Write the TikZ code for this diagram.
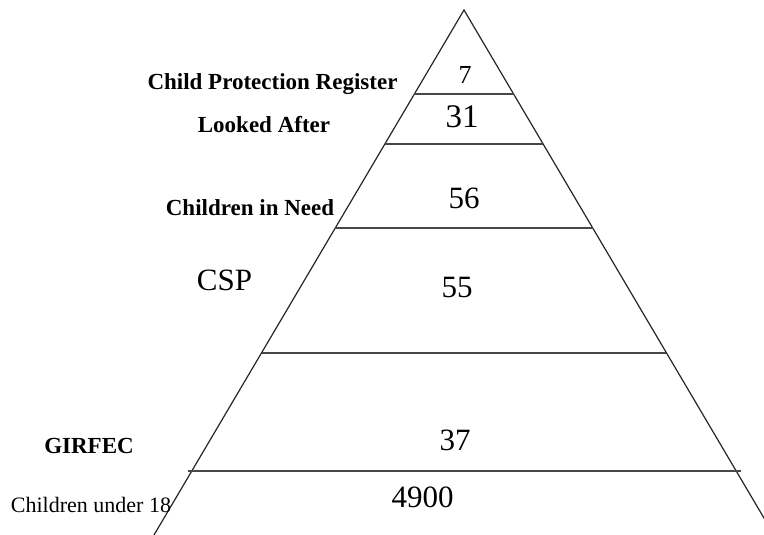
\documentclass[tikz,border=0pt]{standalone}
\usepackage{fontspec}
\setmainfont{Liberation Serif}
\begin{document}
\begin{tikzpicture}[x=1pt,y=-1pt,
  side/.style={line width=1.2pt, draw=black!85},
  divider/.style={line width=1.7pt, draw=black!72},
  blbl/.style={inner sep=0, anchor=base, font=\fontsize{23}{23}\selectfont\bfseries},
  rlbl/.style={inner sep=0, anchor=base, font=\fontsize{22}{22}\selectfont},
  num/.style={inner sep=0, anchor=base, font=\fontsize{31}{31}\selectfont}
]
\useasboundingbox (0,0) rectangle (764,535);
\clip (0,0) rectangle (764,535);

% triangle sides
\coordinate (apex) at (464,10);
\coordinate (bl) at (154,535);
\coordinate (br) at (774,535);
\draw[side] (bl) -- (apex) -- (br);

% dividers
\coordinate (d1l) at (414.4,94);  \coordinate (d1r) at (513.6,94);
\coordinate (d2l) at (385,144);   \coordinate (d2r) at (543,144);
\coordinate (d3l) at (335.4,228); \coordinate (d3r) at (592.6,228);
\coordinate (d4l) at (261.6,353); \coordinate (d4r) at (666.4,353);
\coordinate (d5l) at (188,471);   \coordinate (d5r) at (741,471);
\draw[divider] (d1l) -- (d1r);
\draw[divider] (d2l) -- (d2r);
\draw[divider] (d3l) -- (d3r);
\draw[divider] (d4l) -- (d4r);
\draw[divider] (d5l) -- (d5r);

% numbers
\node[num, font=\fontsize{26}{26}\selectfont] (n7) at (465,84) {7};
\node[num, font=\fontsize{33}{33}\selectfont] (n31) at (462,128) {31};
\node[num] (n56) at (464,208) {56};
\node[num] (n55) at (457,297) {55};
\node[num] (n37) at (455,450) {37};
\node[num] (n4900) at (422.5,507) {4900};

% labels
\node[blbl] (cpr) at (272.5,89) {Child Protection Register};
\node[blbl] (la) at (264,132) {Looked After};
\node[blbl] (cin) at (250,215) {Children in Need};
\node[num] (csp) at (224.5,290) {CSP};
\node[blbl] (gir) at (89,453) {GIRFEC};
\node[rlbl] (cu18) at (91,512) {Children under 18};
\end{tikzpicture}
\end{document}
